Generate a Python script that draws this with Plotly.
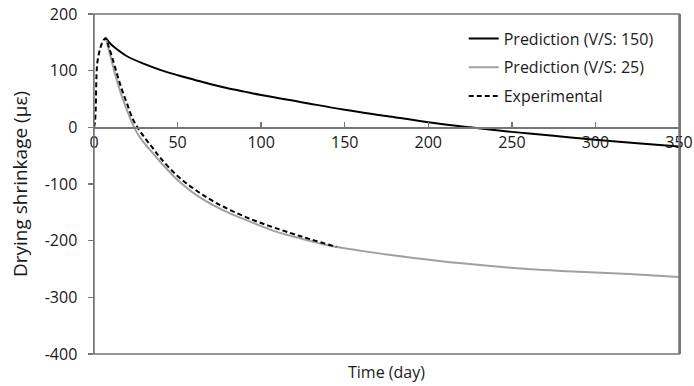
import plotly.graph_objects as go

# Prediction (V/S: 150)
days_vs150 = [7, 10, 15, 20, 30, 40, 50, 60, 70, 80, 90, 100, 125, 150, 175, 200, 225, 250, 275, 300, 325, 350]
shr_vs150 = [158, 147, 135, 125, 112, 101, 92, 84, 76, 69, 63, 57, 44, 31, 20, 9, 0, -8, -15, -22, -28, -34]

# Prediction (V/S: 25)
days_vs25 = [7, 9, 11, 13, 15, 17, 20, 24, 28, 33, 40, 45, 50, 60, 73.5, 80, 93, 105, 117, 130, 141, 160, 190, 220, 255, 290, 320, 350]
shr_vs25 = [158, 135, 112, 90, 70, 52, 28, 0, -20, -38, -62, -78, -93, -117, -141, -150, -166, -180, -191, -201, -209, -218, -230, -240, -249, -255, -259, -264]

# Experimental
days_exp = [0, 0.5, 1, 1.5, 2, 3, 4, 5, 6, 7, 9, 11, 13, 15, 17, 20, 23, 26, 30, 35, 40, 50, 60, 73.5, 93, 117, 130, 145]
shr_exp = [0, 8, 30, 92, 114, 131, 142, 150, 155, 157, 141, 122, 102, 82, 64, 40, 16, 0, -17, -36, -55, -86, -109, -134, -161, -186, -198, -211]

x_ticks = [0, 50, 100, 150, 200, 250, 300, 350]
y_ticks = [200, 100, 0, -100, -200, -300, -400]

FONT = "Open Sans"
FS = 16
AX = "#767676"
TXT = "#1a1a1a"

fig = go.Figure()
fig.add_trace(go.Scatter(x=days_vs150, y=shr_vs150, mode="lines", name="Prediction (V/S: 150)",
                         legendgroup="a",
                         line=dict(color="#000000", width=2, shape="spline")))
fig.add_trace(go.Scatter(x=days_vs25, y=shr_vs25, mode="lines", name="Prediction (V/S: 25)",
                         legendgroup="b",
                         line=dict(color="#a0a0a0", width=2, shape="spline")))
fig.add_trace(go.Scatter(x=days_exp, y=shr_exp, mode="lines", name="Experimental",
                         legendgroup="c",
                         line=dict(color="#000000", width=2, dash="5px,3px", shape="spline")))

fig.update_layout(
    width=694, height=386,
    margin=dict(l=94, r=15, t=14, b=32, autoexpand=False),
    paper_bgcolor="white", plot_bgcolor="white",
    font=dict(family=FONT, size=FS, color=TXT),
    showlegend=True,
    legend=dict(x=0.632, y=0.978, xanchor="left", yanchor="top",
                bgcolor="rgba(0,0,0,0)", font=dict(size=FS, color=TXT), itemwidth=30,
                traceorder="grouped", tracegroupgap=5),
    xaxis=dict(range=[0, 350], tickvals=x_ticks, ticktext=[str(v) for v in x_ticks],
               anchor="free", position=(0 - (-400)) / 600, automargin=False,
               showline=True, linecolor=AX, linewidth=1.5,
               ticks="inside", ticklen=5, tickcolor=AX, tickwidth=1.5,
               showgrid=False, zeroline=False),
    yaxis=dict(range=[-400, 200], tickvals=y_ticks, ticktext=[str(v) for v in y_ticks],
               automargin=False,
               showline=True, linecolor=AX, linewidth=1.5, mirror=True,
               ticks="outside", ticklen=5, tickcolor=AX, tickwidth=1.5,
               ticklabelstandoff=7,
               showgrid=False, zeroline=False,
               title=dict(text="Drying shrinkage (με)", standoff=12)),
    shapes=[dict(type="rect", xref="paper", yref="paper", x0=0, x1=1, y0=0, y1=1,
                 line=dict(color=AX, width=1.5), layer="above")],
    annotations=[dict(text="Time (day)", xref="paper", yref="paper", x=0.5, y=-0.053,
                      xanchor="center", yanchor="middle", showarrow=False,
                      font=dict(size=FS, color=TXT))],
)

fig.write_html("out.html", config={"displayModeBar": False, "staticPlot": True},
               post_script="document.body.style.margin='0';")
